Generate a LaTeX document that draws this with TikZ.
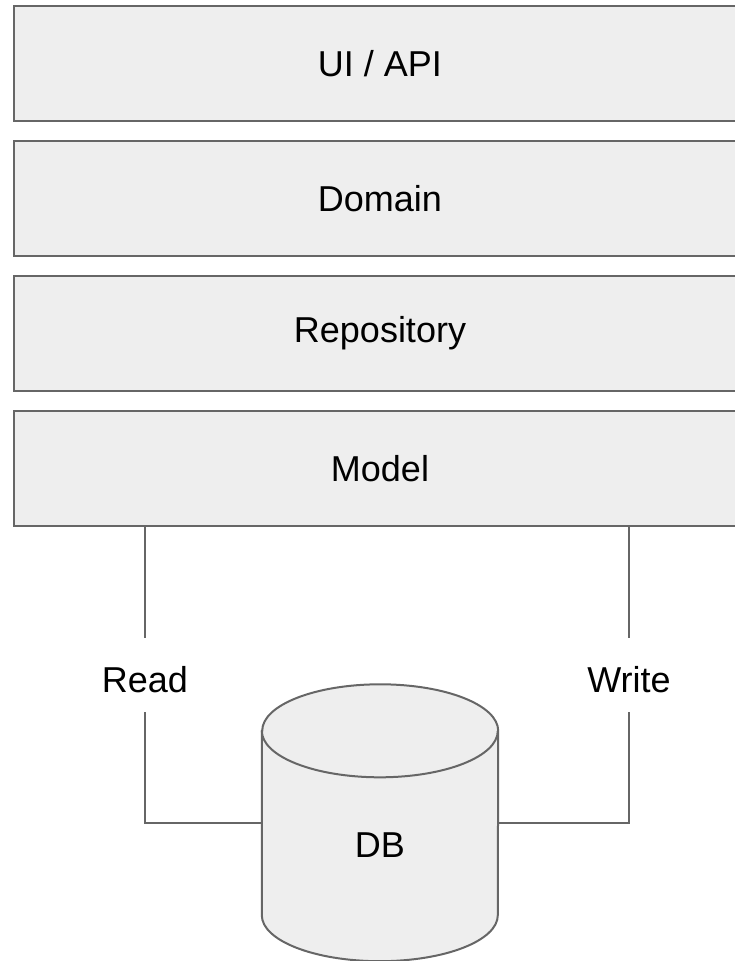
\documentclass[tikz,border=0pt]{standalone}
\usepackage{fontspec}
\setmainfont{Liberation Sans}
\definecolor{layerfill}{HTML}{EEEEEE}
\definecolor{edge}{HTML}{666666}
\begin{document}
\begin{tikzpicture}[x=1pt,y=1pt,
  layer/.style={draw=edge, line width=2pt, fill=layerfill,
    minimum width=732pt, minimum height=115pt, inner sep=0pt,
    font=\fontsize{36}{43}\selectfont},
  wire/.style={draw=edge, line width=2pt},
  caption/.style={inner sep=0pt, font=\fontsize{36}{43}\selectfont}]
\useasboundingbox (0,0) rectangle (735,-961);
\clip (0,0) rectangle (735,-961);

% stacked layers
\node[layer] (ui)     at (380,-63.5)  {UI / API};
\node[layer] (domain) at (380,-198.5) {Domain};
\node[layer] (repo)   at (380,-333.5) {Repository};
\node[layer] (model)  at (380,-468.5) {Model};

% database body (between the two end ellipses)
\node[minimum width=236pt, minimum height=184pt, inner sep=0pt] (db) at (380,-823) {};
\path[wire, fill=layerfill]
  (db.north west) -- (db.south west)
  arc[start angle=180, end angle=360, x radius=118, y radius=46]
  -- (db.north east)
  arc[start angle=0, end angle=180, x radius=118, y radius=46.5] -- cycle;
\draw[wire] (db.north west)
  arc[start angle=180, end angle=360, x radius=118, y radius=46.5];
\node[caption] (dbtext) at (380,-845.5) {DB};

% read / write labels and their gaps
\node[caption] (read)  at (145,-680) {Read};
\node[caption] (write) at (629,-680) {Write};
\coordinate (rtop) at (145,-638);
\coordinate (rbot) at (145,-712);
\coordinate (wtop) at (629,-638);
\coordinate (wbot) at (629,-712);

\draw[wire] (model.south -| rtop) -- (rtop);
\draw[wire] (rbot) |- (db.west);
\draw[wire] (model.south -| wtop) -- (wtop);
\draw[wire] (wbot) |- (db.east);
\end{tikzpicture}
\end{document}
